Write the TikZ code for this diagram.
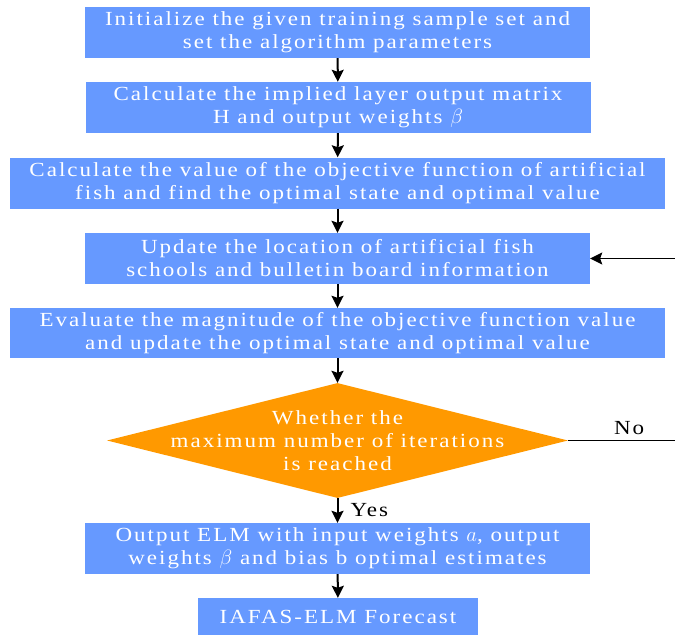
\documentclass[tikz,border=0pt]{standalone}
\usepackage{fontspec}
\setmainfont{Liberation Serif}
\newfontfamily\spacedfont{Liberation Serif}[FakeStretch=1.15, LetterSpace=10]
\usepackage{tikz}
\usetikzlibrary{
    arrows.meta,
    shapes.geometric,
    positioning
}
\definecolor{boxblue}{RGB}{102,153,255}
\definecolor{checkorange}{RGB}{255,153,0}

\begin{document}
\begin{tikzpicture}[x=1pt, y=-1pt,
        flowbox/.style={rectangle, fill=boxblue, text=white, align=center,
            inner sep=0pt, minimum width=505pt, minimum height=51pt,
            font=\spacedfont\fontsize{20}{23}\selectfont},
        widebox/.style={flowbox, minimum width=655pt},
        checkbox/.style={diamond, fill=checkorange, inner sep=0pt,
            minimum width=461pt, minimum height=115pt},
        checktext/.style={text=white, align=center, inner sep=0pt,
            font=\spacedfont\fontsize{20}{23}\selectfont},
        flowlabel/.style={inner sep=0pt, font=\spacedfont\fontsize{20}{23}\selectfont},
        flow/.style={line width=2pt, -{Stealth[length=12pt, width=12pt, inset=2pt]}}
    ]
    \useasboundingbox (0, 0) rectangle (675, 635);
    % boxes
    \node[flowbox] (init) at (337.5, 32.5)
        {Initialize the given training sample set and\\set the algorithm parameters};
    \node[flowbox] (hidden) at (338, 107.5)
        {Calculate the implied layer output matrix\\H and output weights $\beta$};
    \node[widebox] (fitness) at (337.5, 183)
        {Calculate the value of the objective function of artificial\\fish and find the optimal state and optimal value};
    \node[flowbox] (update) at (337.5, 258.5)
        {Update the location of artificial fish\\schools and bulletin board information};
    \node[widebox, minimum height=50pt] (evaluate) at (337.5, 333)
        {Evaluate the magnitude of the objective function value\\and update the optimal state and optimal value};
    \node[checkbox] (check) at (337.5, 440.5) {};
    \node[checktext] (checklabel) at (check.center)
        {Whether the\\maximum number of iterations\\is reached};
    \node[flowbox] (output) at (337.5, 548.5)
        {Output ELM with input weights $a$, output\\weights $\beta$ and bias b optimal estimates};
    \node[flowbox, minimum width=280pt, minimum height=37pt] (forecast) at (338, 616.5)
        {IAFAS-ELM Forecast};
    % loop back
    \coordinate (noend) at (675, 440.5);
    \coordinate (loopin) at (675, 258.5);
    % arrows
    \draw
    (init) edge[flow] (hidden)
    (hidden) edge[flow] (fitness)
    (fitness) edge[flow] (update)
    (update) edge[flow] (evaluate)
    (evaluate) edge[flow] (check)
    (check) edge[flow] node[flowlabel, right=12pt] {Yes} (output)
    (output) edge[flow] (forecast);
    \draw[line width=1.5pt] (check.east) -- node[flowlabel, above=5pt, pos=0.57] {No} (noend);
    \draw[flow, line width=1.5pt] (loopin) -- (update.east);
\end{tikzpicture}
\end{document}
